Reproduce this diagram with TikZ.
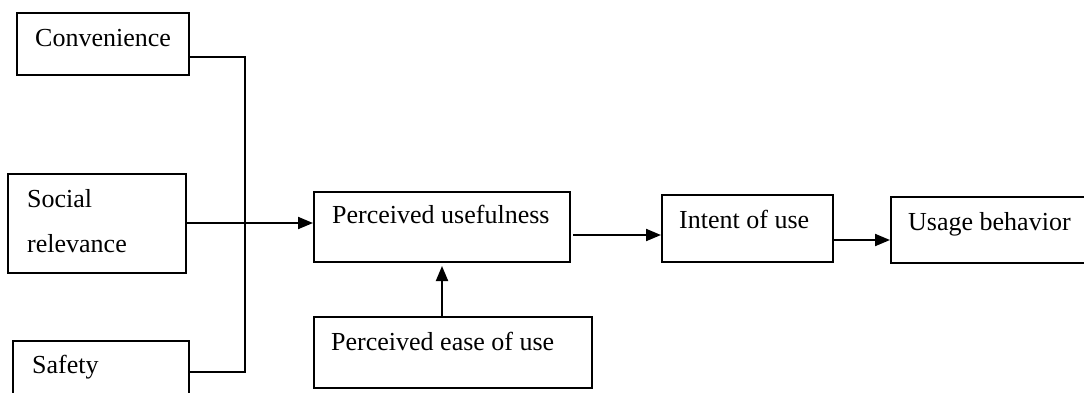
\documentclass[tikz,border=0pt]{standalone}
\usepackage{fontspec}
\setmainfont{Liberation Serif}
\usetikzlibrary{arrows.meta}
\begin{document}
\begin{tikzpicture}[x=1pt,y=-1pt,
  box/.style={draw,line width=2pt,inner sep=0pt},
  lbl/.style={anchor=base west,inner sep=0pt,font=\fontsize{26}{30}\selectfont},
  conn/.style={line width=2pt},
  arr/.style={line width=2pt,-{Triangle[length=15pt,width=12pt]}}]
\useasboundingbox (0,0) rectangle (1084,392);
\clip (0,0) rectangle (1084,392);
% boxes
\node[box,minimum width=172pt,minimum height=62pt] (conv) at (103,44) {};
\node[box,minimum width=178pt,minimum height=99pt] (soc) at (97,223.5) {};
\node[box,minimum width=176pt,minimum height=62pt] (saf) at (101,372) {};
\node[box,minimum width=256pt,minimum height=70pt] (pu) at (442,227) {};
\node[box,minimum width=278pt,minimum height=71pt] (peu) at (452.5,352.5) {};
\node[box,minimum width=171pt,minimum height=67pt] (int) at (747.5,228.5) {};
\node[box,minimum width=210pt,minimum height=66pt] (use) at (996,230) {};
% labels
\node[lbl] (tconv) at (35,46) {Convenience};
\node[lbl] (tsoc1) at (27,207) {Social};
\node[lbl] (tsoc2) at (27,252) {relevance};
\node[lbl] (tsaf) at (32,373) {Safety};
\node[lbl] (tpu) at (332,223) {Perceived usefulness};
\node[lbl] (tpeu) at (331,350) {Perceived ease of use};
\node[lbl] (tint) at (679,228) {Intent of use};
\node[lbl] (tuse) at (908,230) {Usage behavior};
% junctions
\coordinate (jc) at (245,57);
\coordinate (js) at (245,372);
\coordinate (jm) at (245,223);
\coordinate (jv) at (442,300);
\draw[conn] (conv.east |- jc) -- (jc) -- (js) -- (saf.east |- js);
\draw[arr] (soc.east |- jm) -- (pu.west |- jm);
\draw[arr] (peu.north -| jv) -- ([yshift=-3pt]pu.south -| jv);
\coordinate (a1) at (573,235);
\draw[arr] (a1) -- (int.west |- a1);
\coordinate (a2) at (834,240);
\draw[arr] (a2) -- (use.west |- a2);
\end{tikzpicture}
\end{document}
